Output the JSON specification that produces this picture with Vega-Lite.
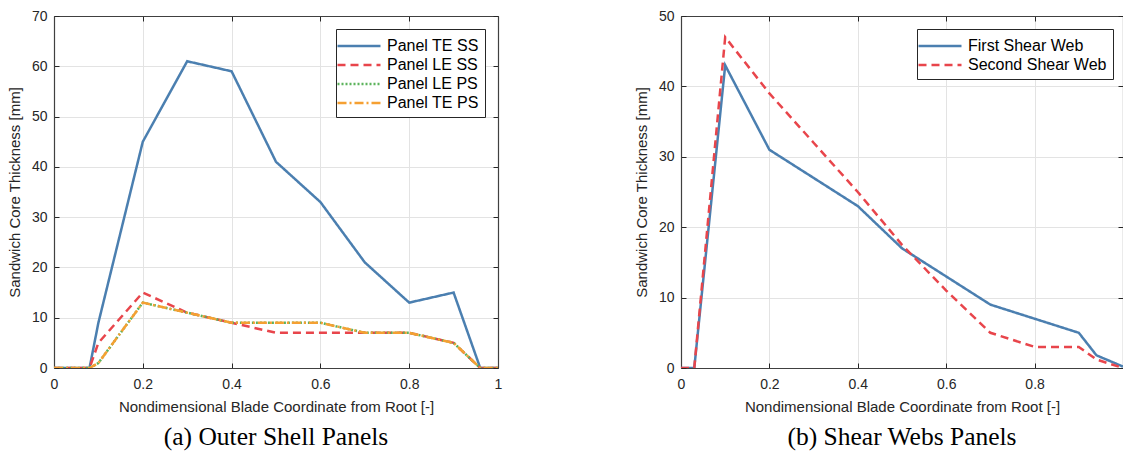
{
  "$schema": "https://vega.github.io/schema/vega-lite/v6.json",
  "padding": {"left": 6, "top": 8, "right": 0, "bottom": 0},
  "background": "white",
  "spacing": 130,
  "datasets": {
    "shell": [
      {"series": "Panel TE SS", "x": 0, "y": 0}, {"series": "Panel TE SS", "x": 0.08, "y": 0}, {"series": "Panel TE SS", "x": 0.1, "y": 9}, {"series": "Panel TE SS", "x": 0.2, "y": 45}, {"series": "Panel TE SS", "x": 0.3, "y": 61}, {"series": "Panel TE SS", "x": 0.4, "y": 59}, {"series": "Panel TE SS", "x": 0.5, "y": 41}, {"series": "Panel TE SS", "x": 0.6, "y": 33}, {"series": "Panel TE SS", "x": 0.7, "y": 21}, {"series": "Panel TE SS", "x": 0.8, "y": 13}, {"series": "Panel TE SS", "x": 0.9, "y": 15}, {"series": "Panel TE SS", "x": 0.96, "y": 0}, {"series": "Panel TE SS", "x": 1, "y": 0},
      {"series": "Panel LE SS", "x": 0, "y": 0}, {"series": "Panel LE SS", "x": 0.08, "y": 0}, {"series": "Panel LE SS", "x": 0.1, "y": 5}, {"series": "Panel LE SS", "x": 0.2, "y": 15}, {"series": "Panel LE SS", "x": 0.3, "y": 11}, {"series": "Panel LE SS", "x": 0.4, "y": 9}, {"series": "Panel LE SS", "x": 0.5, "y": 7}, {"series": "Panel LE SS", "x": 0.6, "y": 7}, {"series": "Panel LE SS", "x": 0.7, "y": 7}, {"series": "Panel LE SS", "x": 0.8, "y": 7}, {"series": "Panel LE SS", "x": 0.9, "y": 5}, {"series": "Panel LE SS", "x": 0.96, "y": 0}, {"series": "Panel LE SS", "x": 1, "y": 0},
      {"series": "Panel LE PS", "x": 0, "y": 0}, {"series": "Panel LE PS", "x": 0.08, "y": 0}, {"series": "Panel LE PS", "x": 0.1, "y": 1}, {"series": "Panel LE PS", "x": 0.2, "y": 13}, {"series": "Panel LE PS", "x": 0.3, "y": 11}, {"series": "Panel LE PS", "x": 0.4, "y": 9}, {"series": "Panel LE PS", "x": 0.5, "y": 9}, {"series": "Panel LE PS", "x": 0.6, "y": 9}, {"series": "Panel LE PS", "x": 0.7, "y": 7}, {"series": "Panel LE PS", "x": 0.8, "y": 7}, {"series": "Panel LE PS", "x": 0.9, "y": 5}, {"series": "Panel LE PS", "x": 0.96, "y": 0}, {"series": "Panel LE PS", "x": 1, "y": 0},
      {"series": "Panel TE PS", "x": 0, "y": 0}, {"series": "Panel TE PS", "x": 0.08, "y": 0}, {"series": "Panel TE PS", "x": 0.1, "y": 1}, {"series": "Panel TE PS", "x": 0.2, "y": 13}, {"series": "Panel TE PS", "x": 0.3, "y": 11}, {"series": "Panel TE PS", "x": 0.4, "y": 9}, {"series": "Panel TE PS", "x": 0.5, "y": 9}, {"series": "Panel TE PS", "x": 0.6, "y": 9}, {"series": "Panel TE PS", "x": 0.7, "y": 7}, {"series": "Panel TE PS", "x": 0.8, "y": 7}, {"series": "Panel TE PS", "x": 0.9, "y": 5}, {"series": "Panel TE PS", "x": 0.96, "y": 0}, {"series": "Panel TE PS", "x": 1, "y": 0}
    ],
    "webs": [
      {"series": "First Shear Web", "x": 0, "y": 0}, {"series": "First Shear Web", "x": 0.03, "y": 0}, {"series": "First Shear Web", "x": 0.1, "y": 43}, {"series": "First Shear Web", "x": 0.2, "y": 31}, {"series": "First Shear Web", "x": 0.3, "y": 27}, {"series": "First Shear Web", "x": 0.4, "y": 23}, {"series": "First Shear Web", "x": 0.5, "y": 17}, {"series": "First Shear Web", "x": 0.6, "y": 13}, {"series": "First Shear Web", "x": 0.7, "y": 9}, {"series": "First Shear Web", "x": 0.8, "y": 7}, {"series": "First Shear Web", "x": 0.9, "y": 5}, {"series": "First Shear Web", "x": 0.94, "y": 1.8}, {"series": "First Shear Web", "x": 1, "y": 0.2},
      {"series": "Second Shear Web", "x": 0, "y": 0}, {"series": "Second Shear Web", "x": 0.03, "y": 0}, {"series": "Second Shear Web", "x": 0.1, "y": 47}, {"series": "Second Shear Web", "x": 0.2, "y": 39}, {"series": "Second Shear Web", "x": 0.3, "y": 32}, {"series": "Second Shear Web", "x": 0.4, "y": 25}, {"series": "Second Shear Web", "x": 0.5, "y": 17.5}, {"series": "Second Shear Web", "x": 0.6, "y": 11}, {"series": "Second Shear Web", "x": 0.7, "y": 5}, {"series": "Second Shear Web", "x": 0.8, "y": 3}, {"series": "Second Shear Web", "x": 0.9, "y": 3}, {"series": "Second Shear Web", "x": 0.94, "y": 1.2}, {"series": "Second Shear Web", "x": 1, "y": 0}
    ]
  },
  "hconcat": [
    {
      "width": 444,
      "height": 352,
      "data": {"name": "shell"},
      "title": {"text": "(a) Outer Shell Panels", "orient": "bottom", "anchor": "middle", "font": "Liberation Serif", "fontSize": 25.5, "fontWeight": "normal", "color": "black", "offset": 11},
      "layer": [
        {
          "mark": {"type": "line", "strokeWidth": 2.5, "clip": true},
          "encoding": {
            "x": {"field": "x", "type": "quantitative", "scale": {"domain": [0, 1], "nice": false}, "axis": {"orient": "bottom", "title": "Nondimensional Blade Coordinate from Root [-]", "values": [0, 0.2, 0.4, 0.6, 0.8, 1], "format": ".1~f", "grid": true}},
            "y": {"field": "y", "type": "quantitative", "scale": {"domain": [0, 70], "nice": false}, "axis": {"orient": "left", "title": "Sandwich Core Thickness [mm]", "values": [0, 10, 20, 30, 40, 50, 60, 70], "format": "d", "grid": true}},
            "color": {"field": "series", "type": "nominal", "scale": {"domain": ["Panel TE SS", "Panel LE SS", "Panel LE PS", "Panel TE PS"], "range": ["#4b7fb0", "#e8454b", "#5cb35c", "#f5a032"]}, "legend": {"title": null, "orient": "none", "legendX": 282, "legendY": 13, "labelExpr": "datum.label + '\u00a0\u00a0\u00a0'"}},
            "strokeDash": {"field": "series", "type": "nominal", "scale": {"domain": ["Panel TE SS", "Panel LE SS", "Panel LE PS", "Panel TE PS"], "range": [[1, 0], [8, 5], [2, 2], [9, 3, 2, 3]]}, "legend": {"title": null, "orient": "none", "legendX": 282, "legendY": 13, "labelExpr": "datum.label + '\u00a0\u00a0\u00a0'"}},
            "order": {"field": "x", "type": "quantitative"}
          }
        },
        {
          "mark": {"type": "line", "opacity": 0},
          "encoding": {
            "x": {"field": "x", "type": "quantitative", "axis": {"orient": "top", "labels": false, "grid": false, "title": null, "values": [0, 0.2, 0.4, 0.6, 0.8, 1]}},
            "y": {"field": "y", "type": "quantitative", "axis": {"orient": "right", "labels": false, "grid": false, "title": null, "values": [0, 10, 20, 30, 40, 50, 60, 70]}}
          }
        }
      ],
      "resolve": {"axis": {"x": "independent", "y": "independent"}}
    },
    {
      "width": 442,
      "height": 352,
      "data": {"name": "webs"},
      "title": {"text": "(b) Shear Webs Panels", "orient": "bottom", "anchor": "middle", "font": "Liberation Serif", "fontSize": 25.5, "fontWeight": "normal", "color": "black", "offset": 11},
      "layer": [
        {
          "mark": {"type": "line", "strokeWidth": 2.5, "clip": true},
          "encoding": {
            "x": {"field": "x", "type": "quantitative", "scale": {"domain": [0, 1], "nice": false}, "axis": {"orient": "bottom", "title": "Nondimensional Blade Coordinate from Root [-]", "values": [0, 0.2, 0.4, 0.6, 0.8, 1], "format": ".1~f", "labelExpr": "datum.value == 1 ? '' : datum.label", "grid": true}},
            "y": {"field": "y", "type": "quantitative", "scale": {"domain": [0, 50], "nice": false}, "axis": {"orient": "left", "title": "Sandwich Core Thickness [mm]", "values": [0, 10, 20, 30, 40, 50], "format": "d", "grid": true}},
            "color": {"field": "series", "type": "nominal", "scale": {"domain": ["First Shear Web", "Second Shear Web"], "range": ["#4b7fb0", "#e8454b"]}, "legend": {"title": null, "orient": "none", "legendX": 236, "legendY": 13}},
            "strokeDash": {"field": "series", "type": "nominal", "scale": {"domain": ["First Shear Web", "Second Shear Web"], "range": [[1, 0], [8, 5]]}, "legend": {"title": null, "orient": "none", "legendX": 236, "legendY": 13}},
            "order": {"field": "x", "type": "quantitative"}
          }
        },
        {
          "mark": {"type": "line", "opacity": 0},
          "encoding": {
            "x": {"field": "x", "type": "quantitative", "axis": {"orient": "top", "labels": false, "grid": false, "title": null, "values": [0, 0.2, 0.4, 0.6, 0.8, 1]}},
            "y": {"field": "y", "type": "quantitative", "axis": {"orient": "right", "labels": false, "grid": false, "title": null, "values": [0, 10, 20, 30, 40, 50]}}
          }
        }
      ],
      "resolve": {"axis": {"x": "independent", "y": "independent"}}
    }
  ],
  "resolve": {"scale": {"color": "independent", "strokeDash": "independent"}},
  "config": {
    "view": {"stroke": "#262626", "strokeWidth": 1},
    "axis": {
      "labelFont": "Liberation Sans", "labelFontSize": 14, "labelColor": "#262626", "labelFlush": false,
      "titleFont": "Liberation Sans", "titleFontSize": 15, "titleFontWeight": "normal", "titleColor": "#262626",
      "gridColor": "#e3e3e3", "gridWidth": 1,
      "domainColor": "#404040", "domainWidth": 1.2,
      "tickColor": "#262626", "tickSize": -5, "tickWidth": 1
    },
    "axisX": {"labelPadding": 14, "titlePadding": 8},
    "axisY": {"labelPadding": 12, "titlePadding": 9},
    "legend": {
      "symbolType": "M-2.263,0H2.263", "symbolSize": 361, "symbolStrokeWidth": 2.5,
      "labelFont": "Liberation Sans", "labelFontSize": 16, "labelColor": "black", "labelLimit": 300, "labelOffset": 17,
      "fillColor": "white", "strokeColor": "#262626", "padding": 6, "rowPadding": -1.5, "symbolOffset": 6
    }
  }
}
